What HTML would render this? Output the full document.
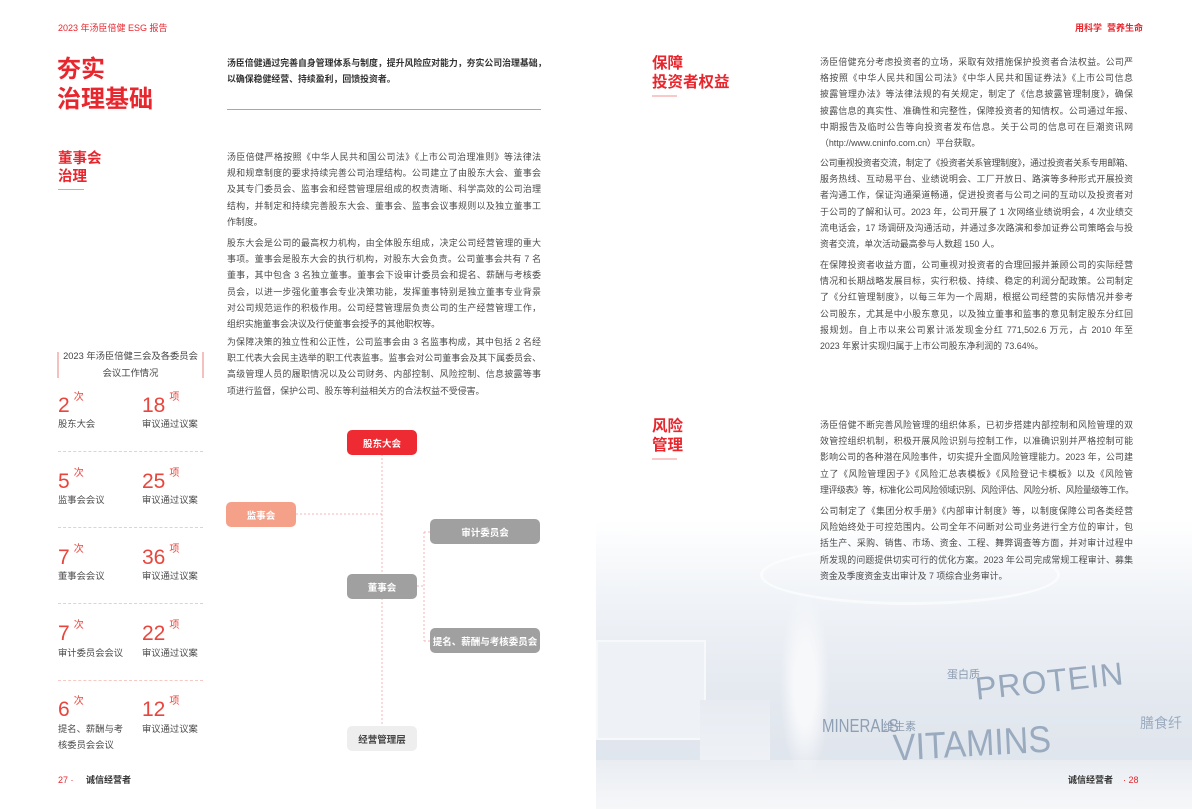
<!DOCTYPE html>
<html><head><meta charset="utf-8"><style>
*{margin:0;padding:0;box-sizing:border-box}
body{width:1192px;height:809px;position:relative;background:#fff;overflow:hidden;font-family:"Liberation Sans","Noto Sans CJK SC",sans-serif;color:#444}
.a{position:absolute}
.red{color:#e8262e}
.p{position:absolute;font-size:8.9px;line-height:16.2px;color:#4a4a4a}
.p div{white-space:nowrap;text-align:justify;text-align-last:justify}
.p div.l{text-align-last:left}
.h{font-weight:bold;color:#e8262e}
.node{position:absolute;border-radius:5px;color:#fff;font-size:9.5px;font-weight:bold;display:flex;align-items:center;justify-content:center}
.num{position:absolute;font-size:21px;color:#e8453c;line-height:1}
.num sup{font-size:10px;vertical-align:top;position:relative;top:-2px;margin-left:4px}
.lab{position:absolute;font-size:9.3px;color:#4a4a4a;line-height:16px}
.sep{position:absolute;left:58px;width:145px;border-top:1px dashed #f5c9c4}
</style></head><body>

<!-- photo background -->
<div class="a" style="left:596px;top:520px;width:596px;height:289px;background:linear-gradient(180deg,#fff 0%,#f1f4f8 25%,#e4e9f0 60%,#dde3eb 100%)"></div>
<div class="a" style="left:760px;top:545px;width:300px;height:60px;border-radius:50%;border:3px solid rgba(255,255,255,0.6)"></div>
<div class="a" style="left:596px;top:640px;width:110px;height:100px;background:#eef1f5;border:2px solid #f7f8fa"></div>
<div class="a" style="left:700px;top:700px;width:70px;height:109px;background:linear-gradient(180deg,#e8ecf2,#f3f5f8)"></div>
<div class="a" style="left:596px;top:760px;width:596px;height:49px;background:linear-gradient(180deg,#e9edf2,#f6f7f9)"></div>
<div class="a" style="left:780px;top:590px;width:50px;height:190px;background:radial-gradient(ellipse,#f7f8fa 30%,rgba(255,255,255,0) 70%)"></div>
<div class="a" style="left:975px;top:663px;font-size:32px;color:#98a9bd;transform:rotate(-6deg);letter-spacing:1px">PROTEIN</div>
<div class="a" style="left:893px;top:725px;font-size:34px;color:#9aabbf;transform:scaleY(1.1) rotate(-3deg);">VITAMINS</div>
<div class="a" style="left:822px;top:718px;font-size:15px;color:#8fa0b4;transform:scaleY(1.2)">MINERALS</div>
<div class="a" style="left:1140px;top:713px;font-size:14px;color:#9aabbf">膳食纤</div>
<div class="a" style="left:947px;top:666px;font-size:11px;color:#8b9cb0">蛋白质</div>
<div class="a" style="left:883px;top:718px;font-size:11px;color:#8b9cb0">维生素</div>

<!-- header -->
<div class="a red" style="left:58px;top:21px;font-size:9px">2023 年汤臣倍健 ESG 报告</div>
<div class="a red" style="left:1075px;top:21px;font-size:9px;font-weight:bold">用科学&nbsp;&nbsp;营养生命</div>

<!-- left title -->
<div class="a h" style="left:57px;top:55px;font-size:24px;line-height:30px">夯实<br>治理基础</div>
<div class="a" style="left:227px;top:55px;width:314px;font-size:8.9px;line-height:16px;font-weight:bold;color:#333">
<div style="white-space:nowrap;text-align:justify;text-align-last:justify">汤臣倍健通过完善自身管理体系与制度，提升风险应对能力，夯实公司治理基础，</div>
<div>以确保稳健经营、持续盈利，回馈投资者。</div></div>
<div class="a" style="left:227px;top:109px;width:314px;height:1px;background:#eb8c8c"></div>

<div class="a h" style="left:58px;top:150px;font-size:14.5px;line-height:18px">董事会<br>治理</div>
<div class="a" style="left:58px;top:189px;width:26px;height:1px;background:#f39a9a"></div>

<div class="p" style="left:227px;top:149px;width:314px">
<div>汤臣倍健严格按照《中华人民共和国公司法》《上市公司治理准则》等法律法</div>
<div>规和规章制度的要求持续完善公司治理结构。公司建立了由股东大会、董事会</div>
<div>及其专门委员会、监事会和经营管理层组成的权责清晰、科学高效的公司治理</div>
<div>结构，并制定和持续完善股东大会、董事会、监事会议事规则以及独立董事工</div>
<div class="l">作制度。</div></div>
<div class="p" style="left:227px;top:235px;width:314px">
<div>股东大会是公司的最高权力机构，由全体股东组成，决定公司经营管理的重大</div>
<div>事项。董事会是股东大会的执行机构，对股东大会负责。公司董事会共有 7 名</div>
<div>董事，其中包含 3 名独立董事。董事会下设审计委员会和提名、薪酬与考核委</div>
<div>员会，以进一步强化董事会专业决策功能，发挥董事特别是独立董事专业背景</div>
<div>对公司规范运作的积极作用。公司经营管理层负责公司的生产经营管理工作，</div>
<div class="l">组织实施董事会决议及行使董事会授予的其他职权等。</div></div>
<div class="p" style="left:227px;top:334px;width:314px">
<div>为保障决策的独立性和公正性，公司监事会由 3 名监事构成，其中包括 2 名经</div>
<div>职工代表大会民主选举的职工代表监事。监事会对公司董事会及其下属委员会、</div>
<div>高级管理人员的履职情况以及公司财务、内部控制、风险控制、信息披露等事</div>
<div class="l">项进行监督，保护公司、股东等利益相关方的合法权益不受侵害。</div></div>

<!-- stats -->
<div class="a" style="left:57px;top:352px;width:2px;height:26px;background:#f5c0c0"></div>
<div class="a" style="left:202px;top:352px;width:2px;height:26px;background:#f5c0c0"></div>
<div class="a" style="left:59px;top:348px;width:143px;text-align:center;font-size:9.3px;line-height:17px;color:#444">2023 年汤臣倍健三会及各委员会<br>会议工作情况</div>

<div class="num" style="left:58px;top:395px">2<sup>次</sup></div><div class="num" style="left:142px;top:395px">18<sup>项</sup></div>
<div class="lab" style="left:58px;top:416px">股东大会</div><div class="lab" style="left:142px;top:416px">审议通过议案</div>
<div class="sep" style="top:451px"></div>
<div class="num" style="left:58px;top:471px">5<sup>次</sup></div><div class="num" style="left:142px;top:471px">25<sup>项</sup></div>
<div class="lab" style="left:58px;top:492px">监事会会议</div><div class="lab" style="left:142px;top:492px">审议通过议案</div>
<div class="sep" style="top:527px"></div>
<div class="num" style="left:58px;top:547px">7<sup>次</sup></div><div class="num" style="left:142px;top:547px">36<sup>项</sup></div>
<div class="lab" style="left:58px;top:568px">董事会会议</div><div class="lab" style="left:142px;top:568px">审议通过议案</div>
<div class="sep" style="top:603px"></div>
<div class="num" style="left:58px;top:623px">7<sup>次</sup></div><div class="num" style="left:142px;top:623px">22<sup>项</sup></div>
<div class="lab" style="left:58px;top:645px">审计委员会会议</div><div class="lab" style="left:142px;top:645px">审议通过议案</div>
<div class="sep" style="top:680px"></div>
<div class="num" style="left:58px;top:699px">6<sup>次</sup></div><div class="num" style="left:142px;top:699px">12<sup>项</sup></div>
<div class="lab" style="left:58px;top:721px">提名、薪酬与考<br>核委员会会议</div><div class="lab" style="left:142px;top:721px">审议通过议案</div>

<!-- org chart -->
<svg class="a" style="left:0;top:0" width="596" height="809">
<g stroke="#f6b6b6" stroke-width="1" stroke-dasharray="2,2" fill="none">
<line x1="382" y1="454" x2="382" y2="726"/>
<line x1="296" y1="514" x2="382" y2="514"/>
<line x1="417" y1="586" x2="424" y2="586"/>
<line x1="424" y1="532" x2="424" y2="641"/>
<line x1="424" y1="532" x2="430" y2="532"/>
<line x1="424" y1="641" x2="430" y2="641"/>
</g></svg>
<div class="node" style="left:347px;top:430px;width:70px;height:25px;background:#ee2b33">股东大会</div>
<div class="node" style="left:226px;top:502px;width:70px;height:25px;background:#f5a189">监事会</div>
<div class="node" style="left:430px;top:519px;width:110px;height:25px;background:#a0a0a0">审计委员会</div>
<div class="node" style="left:347px;top:574px;width:70px;height:25px;background:#a0a0a0">董事会</div>
<div class="node" style="left:430px;top:628px;width:110px;height:25px;background:#a0a0a0">提名、薪酬与考核委员会</div>
<div class="node" style="left:347px;top:726px;width:70px;height:25px;background:#eeeeee;color:#444">经营管理层</div>

<!-- footer -->
<div class="a" style="left:58px;top:773px;font-size:9px;color:#333"><span class="red">27 ·</span>&nbsp;&nbsp;&nbsp;&nbsp;&nbsp;<b>诚信经营者</b></div>
<div class="a" style="left:1068px;top:773px;font-size:9px;color:#333"><b>诚信经营者</b>&nbsp;&nbsp;&nbsp;&nbsp;<span class="red">· 28</span></div>

<!-- right page -->
<div class="a h" style="left:652px;top:54px;font-size:15.5px;line-height:19px">保障<br>投资者权益</div>
<div class="a" style="left:652px;top:95px;width:25px;border-top:2px solid #f9c8c8"></div>
<div class="p" style="left:820px;top:54px;width:313px">
<div>汤臣倍健充分考虑投资者的立场，采取有效措施保护投资者合法权益。公司严</div>
<div>格按照《中华人民共和国公司法》《中华人民共和国证券法》《上市公司信息</div>
<div>披露管理办法》等法律法规的有关规定，制定了《信息披露管理制度》，确保</div>
<div>披露信息的真实性、准确性和完整性，保障投资者的知情权。公司通过年报、</div>
<div>中期报告及临时公告等向投资者发布信息。关于公司的信息可在巨潮资讯网</div>
<div class="l">（http://www.cninfo.com.cn）平台获取。</div></div>
<div class="p" style="left:820px;top:155px;width:313px">
<div style="letter-spacing:-0.3px">公司重视投资者交流，制定了《投资者关系管理制度》，通过投资者关系专用邮箱、</div>
<div>服务热线、互动易平台、业绩说明会、工厂开放日、路演等多种形式开展投资</div>
<div>者沟通工作，保证沟通渠道畅通，促进投资者与公司之间的互动以及投资者对</div>
<div>于公司的了解和认可。2023 年，公司开展了 1 次网络业绩说明会，4 次业绩交</div>
<div>流电话会，17 场调研及沟通活动，并通过多次路演和参加证券公司策略会与投</div>
<div class="l">资者交流，单次活动最高参与人数超 150 人。</div></div>
<div class="p" style="left:820px;top:257px;width:313px">
<div>在保障投资者收益方面，公司重视对投资者的合理回报并兼顾公司的实际经营</div>
<div>情况和长期战略发展目标，实行积极、持续、稳定的利润分配政策。公司制定</div>
<div>了《分红管理制度》，以每三年为一个周期，根据公司经营的实际情况并参考</div>
<div>公司股东，尤其是中小股东意见，以及独立董事和监事的意见制定股东分红回</div>
<div>报规划。自上市以来公司累计派发现金分红 771,502.6 万元，占 2010 年至</div>
<div class="l">2023 年累计实现归属于上市公司股东净利润的 73.64%。</div></div>

<div class="a h" style="left:652px;top:417px;font-size:15.5px;line-height:19px">风险<br>管理</div>
<div class="a" style="left:652px;top:458px;width:25px;border-top:2px solid #f9c8c8"></div>
<div class="p" style="left:820px;top:417px;width:313px">
<div>汤臣倍健不断完善风险管理的组织体系，已初步搭建内部控制和风险管理的双</div>
<div>效管控组织机制，积极开展风险识别与控制工作，以准确识别并严格控制可能</div>
<div>影响公司的各种潜在风险事件，切实提升全面风险管理能力。2023 年，公司建</div>
<div>立了《风险管理因子》《风险汇总表模板》《风险登记卡模板》以及《风险管</div>
<div style="letter-spacing:-0.4px">理评级表》等，标准化公司风险领域识别、风险评估、风险分析、风险量级等工作。</div></div>
<div class="p" style="left:820px;top:503px;width:313px">
<div>公司制定了《集团分权手册》《内部审计制度》等，以制度保障公司各类经营</div>
<div>风险始终处于可控范围内。公司全年不间断对公司业务进行全方位的审计，包</div>
<div>括生产、采购、销售、市场、资金、工程、舞弊调查等方面，并对审计过程中</div>
<div>所发现的问题提供切实可行的优化方案。2023 年公司完成常规工程审计、募集</div>
<div class="l">资金及季度资金支出审计及 7 项综合业务审计。</div></div>
</body></html>
